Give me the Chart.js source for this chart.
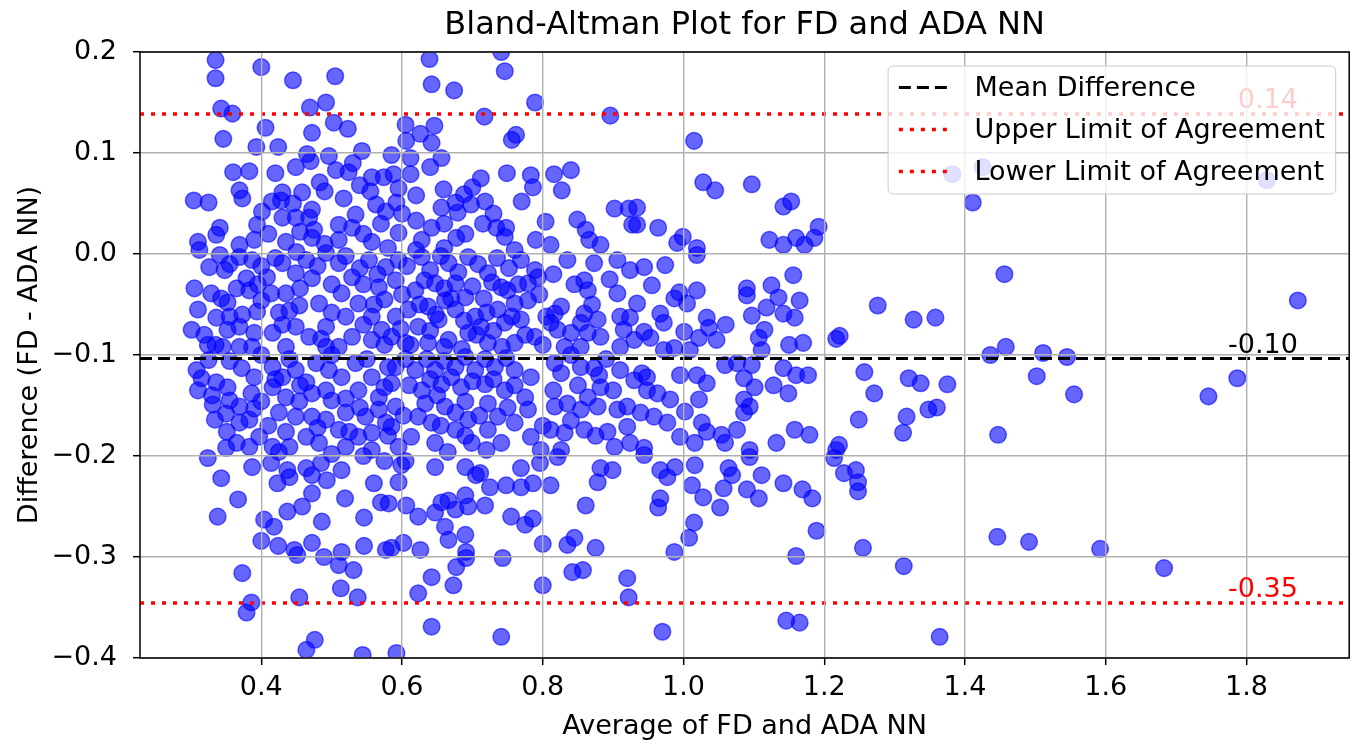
<!DOCTYPE html>
<html>
<head>
<meta charset="utf-8">
<title>Bland-Altman Plot</title>
<script src="https://cdn.jsdelivr.net/npm/chart.js@4.4.1/dist/chart.umd.min.js"></script>
<style>
    html, body { margin: 0; padding: 0; background: #fff; }
    canvas { display: block; }
</style>
</head>
<body>
<canvas id="baChart" width="1359" height="744"></canvas>
<script>
// averages (x) and differences (y), same order in both arrays
var avgValues = [
    0.335,0.335,0.400,0.445,0.505,0.492,0.469,0.343,0.359,0.406,0.503,0.523,0.472,0.346,0.393,0.424,0.465,0.496,0.543,0.360,0.383,0.449,0.506,0.524,0.557,0.574,0.483,0.540,0.369,0.373,0.430,0.458,0.304,0.325,0.428,0.517,0.563,0.577,0.534,0.472,0.401,0.341,0.336,0.394,0.430,0.449,0.468,0.475,0.510,0.529,0.310,0.369,0.390,0.435,0.472,0.510,0.557,
    0.639,0.741,0.746,0.642,0.674,0.789,0.717,0.896,0.605,0.646,0.626,0.606,0.642,0.762,0.756,0.612,0.656,0.588,0.612,0.712,0.749,0.783,0.816,0.840,0.786,0.827,0.659,0.688,0.595,0.592,0.718,0.656,0.676,0.698,0.679,0.902,0.922,0.927,0.620,0.642,0.715,0.734,0.748,0.804,0.849,0.861,0.595,0.628,0.677,0.746,0.811,0.866,0.882,
    1.015,1.028,1.045,1.097,1.142,1.153,1.192,0.934,0.934,0.964,0.999,0.991,1.019,1.122,1.160,1.142,1.172,1.186,
    0.944,0.974,0.955,0.934,1.019,0.994,0.987,1.019,1.005,1.090,1.090,1.125,1.135,1.156,1.165,1.097,1.118,1.142,1.158,0.967,0.972,1.033,1.036,1.060,1.047,1.022,1.001,0.944,0.953,1.115,1.107,1.111,1.150,1.170,1.217,1.222,1.276,0.972,0.987,1.009,1.059,1.076,1.097,1.142,1.160,1.177,1.257,1.271,1.249,1.221,0.941,0.948,0.995,1.019,1.033,1.086,1.101,1.128,1.149,0.948,0.963,0.981,1.022,1.086,1.094,1.086,0.939,0.958,0.977,1.002,1.026,1.033,1.054,1.076,1.158,1.179,1.132,1.094,0.995,1.016,0.944,1.059,1.217,
    1.094,1.214,0.944,0.967,0.977,0.988,1.016,1.012,1.028,1.064,1.069,1.057,1.090,1.107,1.111,1.142,1.169,1.183,1.052,0.967,0.964,1.015,1.008,0.987,1.189,1.160,1.228,1.245,1.248,1.248,1.255,1.146,1.165,0.970,
    1.382,1.425,1.411,1.327,1.358,1.456,1.436,1.458,1.511,1.545,1.320,1.337,1.375,1.348,1.360,1.317,1.312,1.502,1.555,1.447,1.446,1.491,1.592,1.313,1.364,
    1.829,1.873,1.787,1.746,1.683,
    0.324,0.387,0.414,0.343,0.423,0.440,0.437,0.472,0.493,0.464,0.485,0.514,0.560,0.570,0.367,0.472,0.458,0.519,0.437,0.338,0.404,0.418,0.486,0.546,0.400,0.424,0.447,0.451,0.472,0.489,0.514,0.510,0.531,0.546,0.577,0.373,0.513,0.537,0.454,0.386,0.379,0.476,0.464,0.544,
    0.599,0.595,0.581,0.606,0.647,0.690,0.711,0.725,0.705,0.748,0.769,0.769,0.786,0.796,0.811,0.821,0.882,0.899,0.878,0.623,0.656,0.666,0.690,0.694,0.718,0.647,0.676,0.661,0.666,0.690,0.691,0.691,0.677,0.602,0.585,0.626,0.755,0.775,0.786,0.800,0.743,0.861,0.835,0.845,0.875,0.842,0.857,0.800,0.642,0.673,0.623,0.920,0.922,0.642,0.741,0.592,
    0.312,0.341,0.369,0.387,0.326,0.348,0.379,0.305,0.329,0.343,0.365,0.383,0.310,0.336,0.373,0.301,0.319,0.352,0.369,0.390,0.324,0.345,0.369,0.387,0.394,0.408,0.414,0.425,0.416,0.435,0.430,0.449,0.464,0.472,0.435,0.454,0.482,0.449,0.468,0.492,0.492,0.510,0.529,0.514,0.538,0.520,0.557,0.529,0.557,0.510,0.567,0.553,0.492,0.577,0.571,
    0.308,0.315,0.310,0.336,0.352,0.331,0.355,0.334,0.351,0.369,0.383,0.372,0.390,0.386,0.369,0.390,0.365,0.383,0.397,0.416,0.416,0.430,0.449,0.464,0.435,0.454,0.472,0.425,0.449,0.472,0.492,0.435,0.464,0.416,0.440,0.482,0.496,0.514,0.492,0.520,0.538,0.557,0.567,0.520,0.548,0.567,0.510,0.538,0.557,0.520,0.557,0.577,0.478,0.534,
    0.595,0.628,0.666,0.694,0.722,0.769,0.789,0.591,0.619,0.647,0.676,0.690,0.661,0.637,0.609,0.591,0.623,0.652,0.676,0.704,0.712,0.736,0.750,0.760,0.779,0.741,0.779,0.793,0.746,0.769,0.789,0.605,0.637,0.666,0.694,0.722,0.760,0.585,0.817,0.826,0.811,0.840,0.864,0.882,0.910,0.930,0.854,0.831,0.859,0.864,0.854,0.878,0.906,0.910,0.924,0.873,0.906,0.924,0.835,0.821,0.859,
    0.591,0.585,0.591,0.585,0.595,0.619,0.647,0.676,0.704,0.732,0.760,0.783,0.628,0.656,0.684,0.718,0.746,0.775,0.633,0.661,0.623,0.642,0.676,0.694,0.676,0.722,0.736,0.722,0.613,0.647,0.699,0.741,0.760,0.779,0.783,0.817,0.826,0.854,0.873,0.910,0.930,0.882,0.864,0.817,0.835,0.854,0.878,0.906,0.920,0.811,0.831,0.859,0.892,0.920,0.826,0.902,0.924,0.797,
    // overlapping points inside the dense core
    0.607,0.640,0.655,0.680,0.708,0.735,0.752,0.600,0.632,0.660,0.700,0.716,0.728,0.765,0.625,0.648,0.670,0.688,0.720,0.598,0.612,0.640,0.660,0.685,0.706,0.730,0.742,0.756,0.775,0.800,0.805,0.795,
    0.605,0.635,0.660,0.690,0.718,0.748,0.610,0.640,0.670,0.700,0.730,0.760,0.602,0.650,0.690,0.710,0.750,0.655,0.690,0.720,0.605,0.665,
    0.355,0.400,0.420,0.450,0.480,0.520,0.540,0.565,0.395,0.455,0.500,0.545,0.575,0.352,0.400,0.440,0.500,0.560,0.335,0.355,0.430,0.485,0.545,0.575,0.325,0.355,0.400,0.440,0.500,0.550,0.580,0.330,0.350,0.400,0.420,0.455,0.500,0.540,0.575,0.580,0.410,0.480,0.525,0.350,0.425,0.500,0.545,0.575,
    0.410,0.455,0.490,0.545,0.570,0.415,0.445,0.490,0.555,0.600,0.620,0.660,0.690,0.700,0.730,0.420,0.470,0.530,0.585,0.640,0.660,0.620,0.580,0.760,0.790,0.770,
    0.815,0.845,0.870,0.895,0.840,0.890,0.915,0.880,0.900,0.850,0.815,0.840,0.875,0.800
];
var diffValues = [
    0.192,0.174,0.185,0.172,0.176,0.150,0.145,0.144,0.139,0.125,0.130,0.124,0.120,0.114,0.106,0.106,0.099,0.097,0.102,0.081,0.082,0.086,0.083,0.081,0.076,0.076,0.071,0.068,0.063,0.055,0.061,0.061,0.053,0.051,0.053,0.055,0.049,0.042,0.039,0.044,0.042,0.026,0.019,0.029,0.036,0.036,0.036,0.024,0.029,0.026,0.012,0.009,0.014,0.012,0.016,0.014,0.012,
    0.193,0.200,0.181,0.168,0.162,0.150,0.136,0.137,0.128,0.127,0.119,0.112,0.110,0.118,0.113,0.095,0.095,0.079,0.079,0.075,0.080,0.078,0.079,0.083,0.066,0.063,0.064,0.059,0.065,0.051,0.052,0.046,0.051,0.049,0.041,0.045,0.045,0.029,0.033,0.026,0.030,0.026,0.026,0.032,0.034,0.024,0.021,0.014,0.016,0.017,0.009,0.014,0.009,
    0.112,0.071,0.063,0.069,0.047,0.052,0.027,0.046,0.029,0.026,0.017,0.011,0.006,0.014,0.016,0.009,0.009,0.016,
    -0.013,-0.011,-0.031,-0.049,-0.001,-0.038,-0.044,-0.036,-0.049,-0.034,-0.041,-0.031,-0.043,-0.021,-0.046,-0.061,-0.053,-0.059,-0.063,-0.059,-0.068,-0.063,-0.073,-0.070,-0.085,-0.083,-0.077,-0.077,-0.083,-0.075,-0.083,-0.095,-0.090,-0.088,-0.084,-0.081,-0.051,-0.095,-0.093,-0.095,-0.110,-0.108,-0.110,-0.113,-0.120,-0.120,-0.117,-0.138,-0.164,-0.189,-0.118,-0.122,-0.120,-0.120,-0.128,-0.123,-0.132,-0.130,-0.138,-0.135,-0.138,-0.144,-0.144,-0.144,-0.151,-0.157,-0.157,-0.161,-0.167,-0.156,-0.167,-0.176,-0.179,-0.174,-0.174,-0.179,-0.187,-0.194,-0.181,-0.187,-0.192,-0.187,-0.194,
    -0.201,-0.202,-0.199,-0.214,-0.221,-0.211,-0.209,-0.229,-0.241,-0.212,-0.219,-0.232,-0.233,-0.242,-0.219,-0.227,-0.233,-0.242,-0.251,-0.242,-0.251,-0.266,-0.281,-0.295,-0.274,-0.299,-0.217,-0.214,-0.226,-0.235,-0.291,-0.363,-0.365,-0.374,
    0.079,0.086,0.051,-0.065,-0.063,-0.020,-0.100,-0.092,-0.098,-0.102,-0.123,-0.128,-0.129,-0.154,-0.152,-0.161,-0.177,-0.121,-0.139,-0.179,-0.280,-0.285,-0.292,-0.309,-0.379,
    0.073,-0.046,-0.123,-0.141,-0.311,
    -0.202,-0.211,-0.207,-0.222,-0.227,-0.221,-0.214,-0.219,-0.224,-0.212,-0.207,-0.214,-0.227,-0.246,-0.243,-0.237,-0.250,-0.242,-0.255,-0.260,-0.263,-0.270,-0.265,-0.261,-0.284,-0.289,-0.293,-0.298,-0.286,-0.300,-0.295,-0.308,-0.313,-0.289,-0.293,-0.316,-0.331,-0.340,-0.340,-0.345,-0.355,-0.382,-0.392,-0.397,
    -0.209,-0.226,-0.247,-0.249,-0.211,-0.211,-0.217,-0.231,-0.219,-0.229,-0.212,-0.231,-0.227,-0.207,-0.229,-0.201,-0.212,-0.214,-0.226,-0.260,-0.246,-0.244,-0.239,-0.250,-0.249,-0.256,-0.253,-0.270,-0.283,-0.278,-0.295,-0.301,-0.310,-0.286,-0.291,-0.293,-0.260,-0.268,-0.262,-0.287,-0.301,-0.249,-0.288,-0.281,-0.291,-0.315,-0.313,-0.328,-0.320,-0.328,-0.336,-0.321,-0.340,-0.369,-0.379,-0.395,
    0.004,-0.001,-0.003,-0.006,-0.013,-0.016,-0.024,-0.034,-0.039,-0.044,-0.034,-0.036,-0.055,-0.063,-0.060,-0.075,-0.080,-0.075,-0.072,-0.078,-0.090,-0.092,-0.092,-0.092,-0.057,-0.023,-0.039,-0.058,-0.078,-0.092,-0.009,-0.019,-0.006,-0.024,-0.039,-0.051,-0.049,-0.072,-0.082,-0.072,-0.092,-0.009,-0.023,-0.039,-0.049,-0.062,-0.062,-0.082,-0.085,-0.092,-0.033,-0.006,0.001,-0.013,-0.075,
    -0.115,-0.123,-0.135,-0.127,-0.132,-0.149,-0.145,-0.164,-0.176,-0.167,-0.164,-0.113,-0.122,-0.138,-0.151,-0.153,-0.187,-0.191,-0.181,-0.112,-0.132,-0.122,-0.115,-0.127,-0.142,-0.146,-0.138,-0.157,-0.161,-0.161,-0.164,-0.176,-0.181,-0.191,-0.191,-0.187,-0.115,-0.122,-0.135,-0.143,-0.135,-0.122,-0.142,-0.157,-0.161,-0.154,-0.174,-0.181,-0.177,-0.191,-0.194,-0.167,-0.108,-0.108,
    -0.006,-0.003,-0.009,-0.003,-0.019,-0.006,-0.016,-0.026,-0.036,-0.029,-0.029,-0.043,-0.046,-0.052,-0.055,-0.062,-0.072,-0.065,-0.055,-0.062,-0.072,-0.055,-0.036,-0.049,-0.046,-0.033,-0.029,-0.023,-0.068,-0.065,-0.082,-0.088,-0.088,-0.085,-0.078,-0.088,-0.088,-0.082,-0.059,-0.052,-0.068,-0.078,-0.078,-0.082,-0.092,-0.085,-0.092,-0.092,-0.026,-0.036,-0.068,-0.065,-0.039,-0.062,-0.063,-0.009,-0.006,-0.016,-0.006,-0.075,-0.059,
    -0.112,-0.128,-0.151,-0.171,-0.191,-0.115,-0.115,-0.112,-0.115,-0.112,-0.115,-0.122,-0.135,-0.129,-0.132,-0.129,-0.135,-0.142,-0.148,-0.151,-0.161,-0.167,-0.157,-0.164,-0.174,-0.148,-0.161,-0.174,-0.181,-0.187,-0.187,-0.187,-0.167,-0.154,-0.181,-0.108,-0.118,-0.112,-0.113,-0.115,-0.125,-0.132,-0.142,-0.151,-0.148,-0.154,-0.151,-0.154,-0.151,-0.174,-0.177,-0.174,-0.176,-0.171,-0.194,-0.191,-0.187,-0.194,
    // overlapping points inside the dense core
    -0.012,-0.016,-0.002,-0.018,-0.010,-0.004,-0.014,-0.040,-0.026,-0.034,-0.032,-0.044,-0.028,-0.030,-0.050,-0.060,-0.044,-0.066,-0.058,-0.074,-0.090,-0.076,-0.092,-0.094,-0.080,-0.076,-0.092,-0.062,-0.080,-0.090,-0.062,-0.040,
    -0.104,-0.104,-0.106,-0.102,-0.104,-0.103,-0.130,-0.124,-0.122,-0.126,-0.124,-0.130,-0.160,-0.140,-0.146,-0.160,-0.152,-0.170,-0.180,-0.194,-0.205,-0.196,
    -0.010,-0.012,-0.004,0.002,-0.012,-0.002,-0.014,-0.020,-0.030,-0.034,-0.030,-0.030,-0.045,-0.048,-0.046,-0.056,-0.058,-0.050,-0.090,-0.062,-0.070,-0.084,-0.070,-0.090,-0.105,-0.106,-0.100,-0.104,-0.100,-0.104,-0.112,-0.140,-0.158,-0.146,-0.124,-0.130,-0.145,-0.152,-0.132,-0.180,-0.170,-0.172,-0.176,-0.192,-0.196,-0.198,-0.200,-0.205,
    0.020,0.022,0.010,0.020,0.030,0.052,0.050,0.062,0.062,0.040,0.058,0.030,0.020,0.066,0.040,0.080,0.092,0.090,0.098,0.086,0.006,0.004,0.006,0.004,0.014,0.052,
    -0.020,-0.030,-0.050,-0.025,-0.100,-0.104,-0.075,-0.120,-0.135,-0.130,-0.135,-0.165,-0.180,-0.170
];

var meanDiff = -0.1035;
var upperLoA = 0.1385;
var lowerLoA = -0.3455;

var xTicks = [0.4, 0.6, 0.8, 1.0, 1.2, 1.4, 1.6, 1.8];
var yTicks = [-0.4, -0.3, -0.2, -0.1, 0.0, 0.1, 0.2];
var xLimits = [0.2276, 1.946];
var yLimits = [-0.4, 0.2];

var chartTitle = 'Bland-Altman Plot for FD and ADA NN';
var xTitle = 'Average of FD and ADA NN';
var yTitle = 'Difference (FD - ADA NN)';
var lineLabels = ['Mean Difference', 'Upper Limit of Agreement', 'Lower Limit of Agreement'];

var FONT = 'DejaVu Sans';
var FS = 27;

function hline(value) {
    return [{ x: xLimits[0], y: value }, { x: xLimits[1], y: value }];
}

// title, spines, value labels and the legend box
var overlayPlugin = {
    id: 'overlay',
    afterDraw: function(chart) {
        var ctx = chart.ctx;
        var area = chart.chartArea;
        var xs = chart.scales.x;
        var ys = chart.scales.y;
        ctx.save();

        ctx.fillStyle = '#000';
        ctx.font = '32px "' + FONT + '"';
        ctx.textAlign = 'center';
        ctx.textBaseline = 'alphabetic';
        ctx.fillText(chartTitle, (area.left + area.right) / 2, 34);

        ctx.strokeStyle = '#000';
        ctx.lineWidth = 1.5;
        ctx.setLineDash([]);
        ctx.strokeRect(area.left, area.top, area.right - area.left, area.bottom - area.top);

        // numbers written over the lines, right aligned on the largest average
        var labelX = xs.getPixelForValue(Math.max.apply(null, avgValues));
        ctx.font = FS + 'px "' + FONT + '"';
        ctx.textAlign = 'right';
        [[meanDiff, '#000'], [upperLoA, 'red'], [lowerLoA, 'red']].forEach(function(item) {
            ctx.fillStyle = item[1];
            ctx.fillText(item[0].toFixed(2), labelX, ys.getPixelForValue(item[0]) - 6);
        });

        // legend
        var lineSets = chart.data.datasets.filter(function(ds) { return ds.showLine; });
        var textW = 0;
        lineSets.forEach(function(ds) { textW = Math.max(textW, ctx.measureText(ds.label).width); });
        var pad = 10.8, handle = 54, gap = 21.6, pitch = 42;
        var boxW = pad + handle + gap + textW + pad;
        var boxH = 128;
        var boxR = area.right - 13.5;
        var boxL = boxR - boxW;
        var boxT = area.top + 14;
        var r = 5;
        ctx.beginPath();
        ctx.moveTo(boxL + r, boxT);
        ctx.lineTo(boxR - r, boxT);
        ctx.arcTo(boxR, boxT, boxR, boxT + r, r);
        ctx.lineTo(boxR, boxT + boxH - r);
        ctx.arcTo(boxR, boxT + boxH, boxR - r, boxT + boxH, r);
        ctx.lineTo(boxL + r, boxT + boxH);
        ctx.arcTo(boxL, boxT + boxH, boxL, boxT + boxH - r, r);
        ctx.lineTo(boxL, boxT + r);
        ctx.arcTo(boxL, boxT, boxL + r, boxT, r);
        ctx.closePath();
        ctx.fillStyle = 'rgba(255,255,255,0.8)';
        ctx.fill();
        ctx.strokeStyle = '#cccccc';
        ctx.lineWidth = 1;
        ctx.stroke();

        ctx.textAlign = 'left';
        ctx.textBaseline = 'middle';
        lineSets.forEach(function(ds, i) {
            var y = boxT + 21.5 + i * pitch;
            ctx.beginPath();
            ctx.setLineDash(ds.borderDash);
            ctx.lineWidth = ds.borderWidth;
            ctx.strokeStyle = ds.borderColor;
            ctx.moveTo(boxL + pad, y);
            ctx.lineTo(boxL + pad + handle, y);
            ctx.stroke();
            ctx.setLineDash([]);
            ctx.fillStyle = '#000';
            ctx.fillText(ds.label, boxL + pad + handle + gap, y + 1);
        });

        ctx.restore();
    }
};

var ctx = document.getElementById('baChart').getContext('2d');
var baChart = new Chart(ctx, {
    type: 'scatter',
    data: {
        datasets: [{
            label: 'points',
            data: avgValues.map(function(v, i) { return { x: v, y: diffValues[i] }; }),
            backgroundColor: 'rgba(0,0,255,0.6)',
            borderColor: 'rgba(0,0,255,0.6)',
            borderWidth: 1.5,
            pointRadius: 8.3,
            pointHoverRadius: 8.3,
            order: 2,
            clip: 0
        }, {
            label: lineLabels[0],
            data: hline(meanDiff),
            showLine: true,
            borderColor: '#000',
            borderWidth: 3,
            borderDash: [12, 6],
            pointRadius: 0,
            order: 1
        }, {
            label: lineLabels[1],
            data: hline(upperLoA),
            showLine: true,
            borderColor: 'red',
            borderWidth: 3.5,
            borderDash: [4, 7],
            pointRadius: 0,
            order: 1
        }, {
            label: lineLabels[2],
            data: hline(lowerLoA),
            showLine: true,
            borderColor: 'red',
            borderWidth: 3.5,
            borderDash: [4, 7],
            pointRadius: 0,
            order: 1
        }]
    },
    options: {
        responsive: false,
        animation: false,
        devicePixelRatio: 1,
        layout: { padding: { left: 0, right: 3, top: 52, bottom: 0 } },
        plugins: {
            legend: { display: false },
            title: { display: false },
            tooltip: { enabled: false }
        },
        scales: {
            x: {
                type: 'linear',
                min: xLimits[0],
                max: xLimits[1],
                afterBuildTicks: function(scale) {
                    scale.ticks = xTicks.map(function(v) { return { value: v }; });
                },
                afterFit: function(scale) { scale.height = 86; },
                grid: { color: '#b0b0b0', lineWidth: 1.4, tickColor: '#000', tickLength: 7, tickWidth: 1.5, z: 1 },
                border: { display: false },
                ticks: {
                    color: '#000',
                    font: { family: FONT, size: FS },
                    padding: 7,
                    maxRotation: 0,
                    callback: function(v) { return v.toFixed(1); }
                },
                title: {
                    display: true,
                    text: xTitle,
                    color: '#000',
                    font: { family: FONT, size: FS },
                    padding: { top: 0, bottom: 1 }
                }
            },
            y: {
                type: 'linear',
                min: yLimits[0],
                max: yLimits[1],
                afterBuildTicks: function(scale) {
                    scale.ticks = yTicks.map(function(v) { return { value: v }; });
                },
                afterFit: function(scale) { scale.width = 140; },
                grid: { color: '#b0b0b0', lineWidth: 1.4, tickColor: '#000', tickLength: 7, tickWidth: 1.5, z: 1 },
                border: { display: false },
                ticks: {
                    color: '#000',
                    font: { family: FONT, size: FS },
                    padding: 16,
                    callback: function(v) { return v.toFixed(1).replace('-', '\u2212'); }
                },
                title: {
                    display: true,
                    text: yTitle,
                    color: '#000',
                    font: { family: FONT, size: FS },
                    padding: { top: 14, bottom: 0 }
                }
            }
        }
    },
    plugins: [overlayPlugin]
});
</script>
</body>
</html>
